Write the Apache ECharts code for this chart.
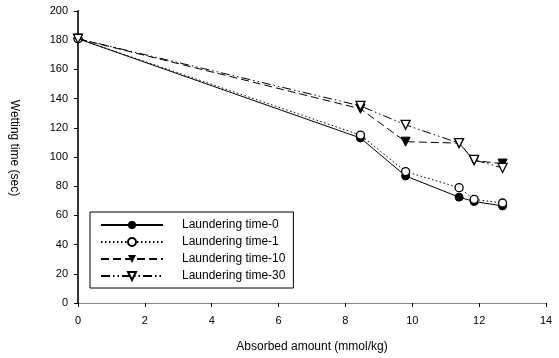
<!DOCTYPE html>
<html>
<head>
<meta charset="utf-8">
<script src="https://cdn.jsdelivr.net/npm/echarts@6/dist/echarts.min.js"></script>
<style>
  html, body { margin: 0; padding: 0; background: #fff; }
  #chart { width: 559px; height: 358px; }
</style>
</head>
<body>
<div id="chart"></div>
<script>
// absorbed amount (mmol/kg)
const absorbed = [0, 8.45, 9.8, 11.4, 11.85, 12.7];
const seriesNames = ['Laundering time-0', 'Laundering time-1', 'Laundering time-10', 'Laundering time-30'];
// wetting time (sec)
const wet0 = [181, 113, 87, 72.5, 69.5, 66.5];
const wet1 = [181, 115, 90, 79, 71, 68.5];
const wet10 = [181, 133, 110.5, 109.5, 97.5, 95.5];
const wet30 = [181, 135, 122, 109.5, 98, 92.5];

const font = 'Liberation Sans, Arial, sans-serif';
const pairs = (ys) => absorbed.map((x, i) => [x, ys[i]]);

const chart = echarts.init(document.getElementById('chart'));
chart.setOption({
  animation: false,
  backgroundColor: '#fff',
  grid: {
    left: 74,
    right: 13,
    top: 11,
    bottom: 55,
  },
  legend: {
    orient: 'vertical',
    left: 90,
    top: 212,
    backgroundColor: '#fff',
    borderColor: '#000',
    borderWidth: 1,
    borderRadius: 0,
    padding: [7, 8, 6, 10],
    itemWidth: 62,
    itemHeight: 10,
    itemGap: 5,
    textStyle: {
      fontFamily: font,
      fontSize: 12,
      color: '#000',
      padding: [0, 0, 0, 14],
    },
    data: seriesNames,
  },
  xAxis: [{
    type: 'value',
    min: 0,
    max: 14,
    interval: 2,
    name: 'Absorbed amount (mmol/kg)',
    nameLocation: 'middle',
    nameGap: 38,
    nameTextStyle: { fontFamily: font, fontSize: 12, color: '#000' },
    splitLine: { show: false },
    axisLine: { lineStyle: { color: '#555', width: 1 } },
    axisTick: { inside: false, length: 4, lineStyle: { color: '#000' } },
    axisLabel: { fontFamily: font, fontSize: 11, color: '#000', margin: 12 },
  }, {
    // top frame
    type: 'value',
    position: 'top',
    min: 0,
    max: 14,
    axisLine: { lineStyle: { color: '#888', width: 1 } },
    axisTick: { show: false },
    axisLabel: { show: false },
    splitLine: { show: false },
  }],
  yAxis: [{
    type: 'value',
    min: 0,
    max: 200,
    interval: 20,
    name: 'Wetting time (sec)',
    nameLocation: 'middle',
    nameRotate: -90,
    nameGap: 58,
    nameTextStyle: { fontFamily: font, fontSize: 12, color: '#000', padding: [0, 18, 0, 0] },
    splitLine: { show: false },
    axisLine: { show: true, lineStyle: { color: '#000', width: 1 } },
    axisTick: { show: true, inside: false, length: 4, lineStyle: { color: '#000' } },
    axisLabel: { fontFamily: font, fontSize: 11, color: '#000', margin: 10 },
  }, {
    // right frame
    type: 'value',
    position: 'right',
    min: 0,
    max: 200,
    axisLine: { show: true, lineStyle: { color: '#333', width: 2 } },
    axisTick: { show: false },
    axisLabel: { show: false },
    splitLine: { show: false },
  }],
  series: [
    {
      name: seriesNames[0],
      type: 'line',
      data: pairs(wet0),
      symbol: 'circle',
      symbolSize: 8,
      itemStyle: { color: '#000', borderColor: '#000' },
      lineStyle: { color: '#000', width: 1, type: 'solid' },
      z: 4,
    },
    {
      name: seriesNames[1],
      type: 'line',
      data: pairs(wet1),
      symbol: 'circle',
      symbolSize: 8,
      itemStyle: { color: '#fff', borderColor: '#000', borderWidth: 1.3 },
      lineStyle: { color: '#000', width: 1, type: [1.5, 2.5] },
      z: 5,
    },
    {
      name: seriesNames[2],
      type: 'line',
      data: pairs(wet10),
      symbol: 'triangle',
      symbolRotate: 180,
      symbolSize: 9,
      itemStyle: { color: '#000', borderColor: '#000' },
      lineStyle: { color: '#000', width: 1, type: [8, 4] },
      z: 3,
    },
    {
      name: seriesNames[3],
      type: 'line',
      data: pairs(wet30),
      symbol: 'triangle',
      symbolRotate: 180,
      symbolSize: 9,
      itemStyle: { color: '#fff', borderColor: '#000', borderWidth: 1.3 },
      lineStyle: { color: '#000', width: 1, type: [9, 3, 1.5, 3, 1.5, 3] },
      z: 6,
    },
  ],
});
</script>
</body>
</html>
